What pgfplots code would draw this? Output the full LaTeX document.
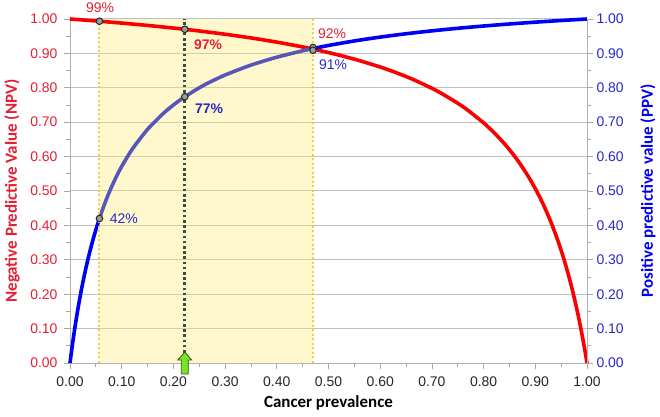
\documentclass[border=0pt]{standalone}
\usepackage{pgfplots}
\pgfplotsset{compat=1.18}
\usepackage{fontspec}
\setmainfont{Liberation Sans}
\newfontfamily\calibri{Carlito}
\definecolor{nred}{RGB}{250,0,0}
\definecolor{pblue}{RGB}{0,0,245}
\definecolor{pslate}{RGB}{88,86,182}
\definecolor{tred}{RGB}{230,30,50}
\definecolor{tblue}{RGB}{40,40,200}
\definecolor{gridc}{RGB}{185,195,195}
\definecolor{bandy}{RGB}{255,235,112}
\definecolor{doty}{RGB}{248,205,70}
\definecolor{dotg}{RGB}{55,80,55}
\definecolor{arrg}{RGB}{120,230,30}
\definecolor{markg}{RGB}{150,160,150}
\pgfdeclareplotmark{greenarrow}{%
  \pgfpathmoveto{\pgfqpoint{0pt}{11pt}}%
  \pgfpathlineto{\pgfqpoint{7pt}{3pt}}%
  \pgfpathlineto{\pgfqpoint{3.5pt}{3pt}}%
  \pgfpathlineto{\pgfqpoint{3.5pt}{-11pt}}%
  \pgfpathlineto{\pgfqpoint{-3.5pt}{-11pt}}%
  \pgfpathlineto{\pgfqpoint{-3.5pt}{3pt}}%
  \pgfpathlineto{\pgfqpoint{-7pt}{3pt}}%
  \pgfpathclose
  \pgfusepathqfillstroke}
\begin{document}
\begin{tikzpicture}
\pgfplotsset{
  common/.style={
    scale only axis, width=517bp, height=344bp,
    xmin=0, xmax=1, ymin=0, ymax=1,
    /pgf/number format/assume math mode=true,
    /pgf/number format/.cd, fixed, fixed zerofill, precision=2, /pgfplots/.cd,
    tick label style={font=\fontsize{14}{16}\selectfont},
    ytick={0,0.1,...,1.01},
    minor ytick={0.05,0.15,...,1},
    tick align=outside,
    major tick length=6bp, minor tick length=4bp,
    every tick/.style={draw=gray!70, line width=0.8pt},
    axis line style={draw=gray!60, line width=0.8pt},
  }
}
\begin{axis}[common, name=main,
  axis x line*=bottom, axis y line*=left,
  xtick={0,0.1,...,1.01},
  minor xtick={0.05,0.15,...,1},
  ymajorgrids, major grid style={draw=gridc, line width=1pt},
  yticklabel style={text=tred, xshift=-3bp},
  xticklabel style={text=black!85, yshift=-4bp},
  xlabel={\calibri\bfseries Cancer prevalence},
  ylabel={\calibri\bfseries Negative Predictive Value (NPV)},
  xlabel style={font=\fontsize{17}{19}\selectfont, text=black, at={(axis description cs:0.5,-0.1163)}, anchor=center},
  ylabel style={font=\fontsize{17}{19}\selectfont, text=tred, at={(axis description cs:-0.1122,0.5)}, anchor=center},
  clip=false,
]
% band
\addplot[draw=none, fill=bandy, fill opacity=0.35] coordinates {
(0.057,0) (0.057,1) (0.47,1) (0.47,0)} -- cycle;
% NPV
\addplot[nred, line width=3.6bp, smooth, tension=0.4, line join=round] coordinates {
(0,1) (0.05,0.99434) (0.1,0.98813) (0.15,0.98128) (0.2,0.97368) (0.25,0.96522)
(0.3,0.95572) (0.35,0.94499) (0.4,0.93277) (0.45,0.91874) (0.5,0.90244)
(0.55,0.88329) (0.6,0.86047) (0.62,0.85006) (0.65,0.83280) (0.67,0.82001) (0.7,0.79856)
(0.72,0.78248) (0.75,0.75510) (0.77,0.73425) (0.8,0.69811) (0.82,0.67002) (0.84,0.63793)
(0.85,0.62011) (0.86,0.60093) (0.87,0.58022) (0.88,0.55779) (0.89,0.53342) (0.9,0.50685)
(0.91,0.47776) (0.92,0.44578) (0.93,0.41046) (0.94,0.37124) (0.945,0.34996) (0.95,0.32743)
(0.955,0.30356) (0.96,0.27820) (0.965,0.25121) (0.97,0.22244)
(0.975,0.19171) (0.98,0.15880) (0.985,0.12347) (0.99,0.08545) (0.995,0.04442)
(0.9975,0.02266) (1,0)};
% PPV
\addplot[pblue, line width=3.6bp, smooth, tension=0.4, line join=round] coordinates {
(0,0) (0.0025,0.0292) (0.005,0.05687) (0.01,0.1081) (0.015,0.1545) (0.02,0.1967)
(0.025,0.2353) (0.03,0.2707) (0.035,0.3033) (0.04,0.3333) (0.045,0.3612)
(0.05,0.3871) (0.057,0.4204)};
\addplot[pslate, line width=3.6bp, smooth, tension=0.4, line join=round] coordinates {
(0.057,0.4204) (0.06,0.4337) (0.07,0.4746) (0.08,0.5106) (0.09,0.5427)
(0.1,0.5714) (0.12,0.6207) (0.15,0.6792) (0.18,0.7248) (0.2,0.75) (0.22,0.7719)
(0.25,0.8) (0.27,0.8161) (0.3,0.8372) (0.35,0.8660) (0.4,0.8889) (0.45,0.9076)
(0.47,0.9141)};
\addplot[pblue, line width=3.6bp, smooth, tension=0.4, line join=round] coordinates {
(0.47,0.9141) (0.5,0.9231) (0.55,0.9362) (0.6,0.9474) (0.65,0.9571) (0.7,0.9655) (0.75,0.9730)
(0.8,0.9796) (0.85,0.9855) (0.9,0.9908) (0.95,0.9956) (1,1)};
\addplot[doty, line width=2bp, dash pattern=on 2bp off 2.5bp] coordinates {(0.057,0) (0.057,1)};
\addplot[doty, line width=2bp, dash pattern=on 2bp off 2.5bp] coordinates {(0.47,0) (0.47,1)};
\addplot[dotg, line width=2.6bp, dash pattern=on 2.6bp off 2.6bp] coordinates {(0.222,0) (0.222,1)};
% points
\addplot[only marks, mark=*, mark size=3.3bp, mark options={fill=markg, draw=black!85, line width=1pt}]
coordinates {(0.057,0.9935) (0.222,0.970) (0.222,0.774) (0.057,0.420) (0.47,0.917) (0.47,0.909)};
\addplot[only marks, mark=greenarrow, mark options={fill=arrg, draw=dotg, line width=0.8pt}]
coordinates {(0.222,0)};
% labels
\node[text=tred, font=\fontsize{14}{16}\selectfont] at (axis cs:0.058,1.032) {99\%};
\node[text=tred, font=\fontsize{14}{16}\selectfont\bfseries] at (axis cs:0.267,0.925) {97\%};
\node[text=tblue, font=\fontsize{14}{16}\selectfont\bfseries] at (axis cs:0.269,0.738) {77\%};
\node[text=tred, font=\fontsize{14}{16}\selectfont] at (axis cs:0.507,0.956) {92\%};
\node[text=tblue, font=\fontsize{14}{16}\selectfont] at (axis cs:0.509,0.866) {91\%};
\node[text=tblue, font=\fontsize{14}{16}\selectfont] at (axis cs:0.104,0.421) {42\%};
\end{axis}
\begin{axis}[common,
  axis x line=none, axis y line*=right,
  yticklabel style={text=tblue},
  ylabel={\calibri\bfseries Positive predictive value (PPV)},
  ylabel style={font=\fontsize{17}{19}\selectfont, text=pblue, at={(axis description cs:1.118,0.5)}, anchor=center, rotate=0},
]
\end{axis}
\pgfresetboundingbox
\path ([xshift=-70bp,yshift=-54bp]main.south west) rectangle ([xshift=73bp,yshift=19bp]main.north east);
\end{tikzpicture}
\end{document}
